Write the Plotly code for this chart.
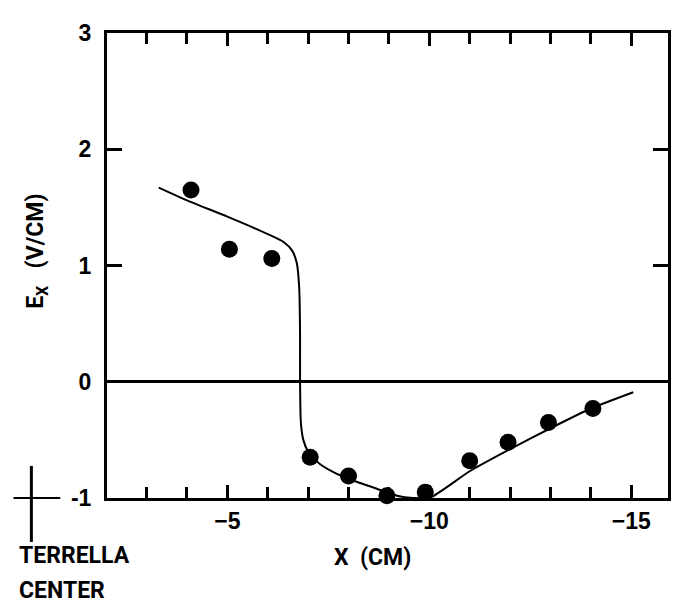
import plotly.graph_objects as go

# Measured points
pos_cm = [-4.1, -5.05, -6.1, -7.05, -8.0, -8.95, -9.9, -11.0, -11.95, -12.95, -14.05]
ex_obs = [1.65, 1.14, 1.06, -0.65, -0.81, -0.98, -0.95, -0.68, -0.52, -0.35, -0.23]

# Fitted curve
curve_x = [-3.3, -4.0, -5.0, -6.0, -6.4, -6.6, -6.72, -6.78, -6.8, -6.8, -6.82, -6.88,
           -7.0, -7.3, -7.7, -8.2, -8.7, -9.2, -9.6, -10.0, -11.0, -12.0, -13.0, -14.0, -15.05]
curve_y = [1.67, 1.56, 1.42, 1.27, 1.2, 1.13, 1.02, 0.8, 0.4, 0.0, -0.35, -0.5,
           -0.6, -0.71, -0.79, -0.86, -0.92, -0.98, -1.0, -1.0, -0.77, -0.58, -0.4, -0.23, -0.09]

x_ticks = [-5, -10, -15]
x_ticklabels = ["\u22125", "\u221210", "\u221215"]
y_ticks = [-1, 0, 1, 2, 3]
y_ticklabels = ["-1", "0", "1", "2", "3"]

tick_font = dict(family="Liberation Sans, Arial, sans-serif", size=23, color="black", weight="bold")
title_font = dict(family="Roboto, Liberation Sans, sans-serif",
                  size=23, color="black", weight="bold")

fig = go.Figure()
fig.add_trace(go.Scatter(x=curve_x, y=curve_y, mode="lines",
                         line=dict(color="black", width=2, shape="spline", smoothing=0.6),
                         showlegend=False, hoverinfo="skip"))
fig.add_trace(go.Scatter(x=pos_cm, y=ex_obs, mode="markers",
                         marker=dict(color="black", size=17),
                         showlegend=False, cliponaxis=False))

fig.update_layout(
    width=675, height=599,
    margin=dict(l=99, r=12, t=14, b=109),
    paper_bgcolor="white", plot_bgcolor="white",
    xaxis=dict(range=[-2.02, -15.91], tickvals=x_ticks, ticktext=x_ticklabels,
               ticks="inside", ticklen=13, tickwidth=3, tickcolor="black",
               minor=dict(dtick=1, tick0=0, ticks="inside", ticklen=11, tickwidth=3, tickcolor="black"),
               showline=True, linewidth=3, linecolor="black", mirror="ticks",
               showgrid=False, zeroline=False, tickfont=tick_font, ticklabelstandoff=0),
    yaxis=dict(range=[-1, 3], tickvals=y_ticks, ticktext=y_ticklabels,
               ticks="inside", ticklen=15, tickwidth=3, tickcolor="black",
               showline=True, linewidth=3, linecolor="black", mirror="ticks",
               showgrid=False, zeroline=True, zerolinecolor="black", zerolinewidth=3,
               tickfont=tick_font, ticklabelstandoff=8),
)

# Axis titles
fig.add_annotation(text="X  (CM)", xref="paper", yref="paper", x=0.4734, y=-0.128,
                   xanchor="center", yanchor="middle", showarrow=False, font=title_font)
fig.add_annotation(text="E<sub>X</sub>   (V/CM)", xref="paper", yref="paper", x=-0.126, y=0.53,
                   xanchor="center", yanchor="middle", showarrow=False, textangle=-90,
                   font=title_font)

# Terrella center marker (cross at x = 0, y = -1)
fig.add_shape(type="line", xref="paper", yref="paper", x0=-0.1667, x1=-0.0833, y0=0, y1=0,
              line=dict(color="black", width=2))
fig.add_shape(type="line", xref="paper", yref="paper", x0=-0.1348, x1=-0.1348, y0=0.069, y1=-0.0945,
              line=dict(color="black", width=3))
fig.add_annotation(text="TERRELLA", xref="paper", yref="paper", x=-0.1596, y=-0.124,
                   xanchor="left", yanchor="middle", showarrow=False, font=title_font)
fig.add_annotation(text="CENTER", xref="paper", yref="paper", x=-0.1596, y=-0.1996,
                   xanchor="left", yanchor="middle", showarrow=False, font=title_font)

fig.write_html("out.html")
